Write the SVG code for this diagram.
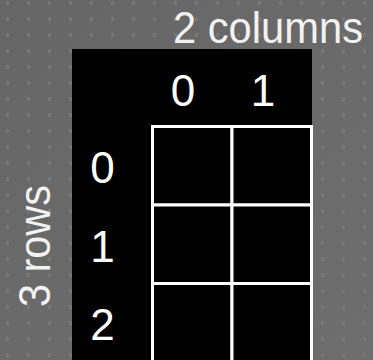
<svg xmlns="http://www.w3.org/2000/svg" width="373" height="360" viewBox="0 0 373 360">
  <defs>
    <pattern id="dots" patternUnits="userSpaceOnUse" x="0" y="0" width="21" height="16">
      <rect x="6" y="1" width="3" height="4" fill="#777777"/>
    </pattern>
    <linearGradient id="bgGrad" x1="0" y1="0" x2="1" y2="1">
      <stop offset="0" stop-color="#666666"/>
      <stop offset="1" stop-color="#6e6e6e"/>
    </linearGradient>
    <style>
      .lbl { font-family: "Liberation Sans", Arial, sans-serif; font-size: 44px; fill: #ffffff; text-anchor: middle; }
      .title { font-family: "Liberation Sans", Arial, sans-serif; font-size: 45px; fill: #f2f2f2; }
      .cell { fill: #000000; stroke: #ffffff; stroke-width: 3; }
    </style>
  </defs>
  <rect x="0" y="0" width="373" height="360" fill="url(#bgGrad)"/>
  <rect x="0" y="0" width="373" height="360" fill="url(#dots)"/>

  <g id="title-columns">
    <text class="title" x="173" y="43" textLength="190" lengthAdjust="spacingAndGlyphs">2 columns</text>
  </g>
  <g id="title-rows">
    <text class="title" transform="translate(50,307) rotate(-90)" x="0" y="0" textLength="122" lengthAdjust="spacingAndGlyphs">3 rows</text>
  </g>

  <g id="panel">
    <rect x="72" y="49" width="240" height="311" fill="#000000"/>
  </g>

  <g id="col-labels">
    <text class="lbl" x="183" y="106">0</text>
    <text class="lbl" x="263" y="106">1</text>
  </g>
  <g id="row-labels">
    <text class="lbl" x="102.5" y="183">0</text>
    <text class="lbl" x="102.5" y="262">1</text>
    <text class="lbl" x="102.5" y="340">2</text>
  </g>

  <g id="grid">
    <g id="cell-0-0"><rect class="cell" x="152.5" y="126.5" width="79.5" height="78.5"/></g>
    <g id="cell-0-1"><rect class="cell" x="232" y="126.5" width="79.5" height="78.5"/></g>
    <g id="cell-1-0"><rect class="cell" x="152.5" y="205" width="79.5" height="78.5"/></g>
    <g id="cell-1-1"><rect class="cell" x="232" y="205" width="79.5" height="78.5"/></g>
    <g id="cell-2-0"><rect class="cell" x="152.5" y="283.5" width="79.5" height="78.5"/></g>
    <g id="cell-2-1"><rect class="cell" x="232" y="283.5" width="79.5" height="78.5"/></g>
  </g>
</svg>
